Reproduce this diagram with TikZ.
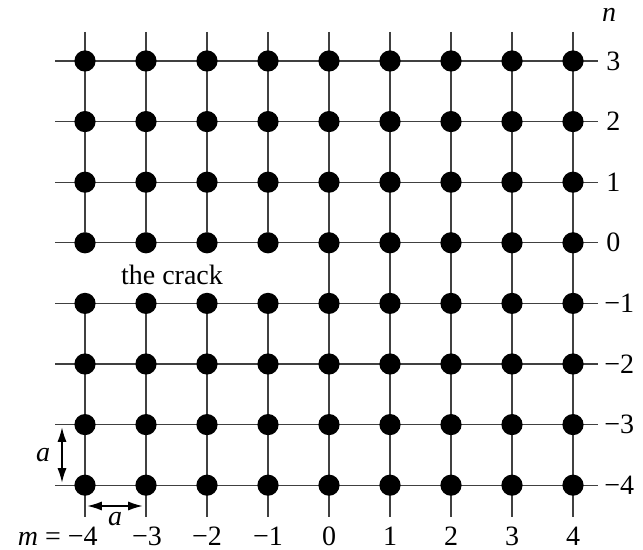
\documentclass[tikz,border=0pt]{standalone}
\usepackage{fontspec}
\setmainfont{Liberation Serif}
\usepackage{tikz}
\usetikzlibrary{arrows.meta,backgrounds}
\definecolor{gridcolor}{HTML}{404040}
\tikzset{
  >=Latex,
  site/.style={
    circle,
    fill=black,
    minimum size=10.6pt,
    inner sep=0pt
  },
  bond/.style={
    draw=gridcolor,
    line width=0.6pt
  },
  spacing/.style={
    draw=black,
    line width=0.9pt,
    {Latex[length=2.6mm,width=1.6mm]}-{Latex[length=2.6mm,width=1.6mm]}
  },
  index/.style={
    font=\fontsize{14}{16}\selectfont,
    inner sep=0pt
  }
}
\begin{document}
\begin{tikzpicture}[x=0.5pt,y=-0.5pt]
  \useasboundingbox (0,0) rectangle (643,550);
  % sites, columns i = m+5, rows j = 4-n
  \foreach \i in {1,...,9}{
    \foreach \j in {1,...,8}{
      \node[site] (P-\i-\j) at ({85+61*(\i-1)},{61+60.6*(\j-1)}) {};
    }
    \coordinate (T-\i) at ({85+61*(\i-1)},32);
    \coordinate (B-\i) at ({85+61*(\i-1)},517);
  }
  \foreach \j in {1,...,8}{
    \coordinate (L-\j) at (55,{61+60.6*(\j-1)});
    \coordinate (R-\j) at (598,{61+60.6*(\j-1)});
  }

  \begin{scope}[on background layer]
    \foreach \j in {1,...,8}{
      \draw[bond] (L-\j) -- (R-\j);
    }
    % the crack: no bonds between n=0 and n=-1 for m<0
    \foreach \i in {1,...,4}{
      \draw[bond] (T-\i) -- (P-\i-4);
      \draw[bond] (P-\i-5) -- (B-\i);
    }
    \foreach \i in {5,...,9}{
      \draw[bond] (T-\i) -- (B-\i);
    }
  \end{scope}

  % n labels
  \node[index,anchor=west] (N-1) at (606,61) {3};
  \node[index,anchor=west] (N-2) at (606,121.6) {2};
  \node[index,anchor=west] (N-3) at (606,182.2) {1};
  \node[index,anchor=west] (N-4) at (606,242.8) {0};
  \node[index,anchor=west] (N-5) at (604,303.4) {−1};
  \node[index,anchor=west] (N-6) at (604,364) {−2};
  \node[index,anchor=west] (N-7) at (604,424.6) {−3};
  \node[index,anchor=west] (N-8) at (604,485.2) {−4};
  \node[index] (n) at (609,15) {\textit{n}};

  % m labels
  \node[index,anchor=east] (M-1) at (98,536) {\textit{m} = −4};
  \node[index] (M-2) at (147,536) {−3};
  \node[index] (M-3) at (207,536) {−2};
  \node[index] (M-4) at (268,536) {−1};
  \node[index] (M-5) at (329,536) {0};
  \node[index] (M-6) at (390,536) {1};
  \node[index] (M-7) at (451,536) {2};
  \node[index] (M-8) at (512,536) {3};
  \node[index] (M-9) at (573,536) {4};

  \node[index] (crack) at (172,275) {the crack};

  % lattice spacing
  \coordinate (V-top) at (62,427);
  \coordinate (V-bot) at (62,483);
  \coordinate (H-left) at (87,506);
  \coordinate (H-right) at (143,506);
  \draw[spacing] (V-top) -- (V-bot);
  \draw[spacing] (H-left) -- (H-right);
  \node[index] (a-v) at (43,455) {\textit{a}};
  \node[index] (a-h) at (115,519) {\textit{a}};
\end{tikzpicture}
\end{document}
